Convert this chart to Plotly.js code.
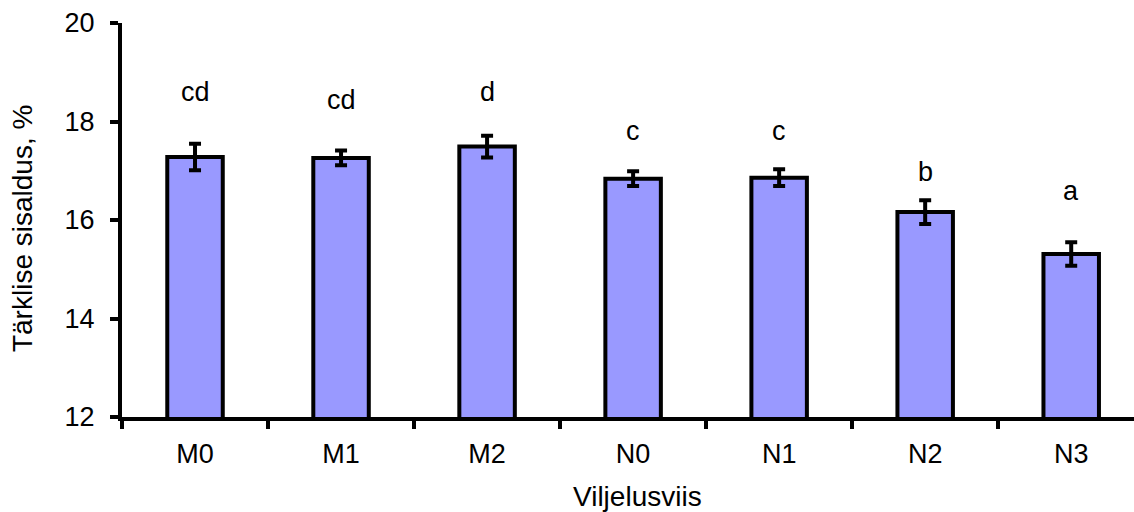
<!DOCTYPE html>
<html>
<head>
<meta charset="utf-8">
<script src="https://cdn.plot.ly/plotly-3.0.1.min.js"></script>
<style>html,body{margin:0;padding:0;background:#fff;}#chart{width:1134px;height:512px;}</style>
</head>
<body>
<div id="chart"></div>
<script>
const categories = ["M0", "M1", "M2", "N0", "N1", "N2", "N3"];
const values = [17.28, 17.26, 17.49, 16.84, 16.86, 16.16, 15.31];
const errors = [0.27, 0.15, 0.22, 0.15, 0.17, 0.24, 0.24];
const letters = ["cd", "cd", "d", "c", "c", "b", "a"];
const letterY = [18.6, 18.44, 18.6, 17.81, 17.81, 16.98, 16.58];
const xTitle = "Viljelusviis";
const yTitle = "Tärklise sisaldus, %";

const FONT = "Liberation Sans, Arial, sans-serif";

const trace = {
  type: "bar",
  x: categories,
  y: values,
  width: 0.38,
  marker: { color: "#9999FF", line: { color: "#000", width: 4 } },
  error_y: { type: "data", array: errors, visible: true, color: "#000", thickness: 4, width: 6 }
};

const annotations = categories.map((c, i) => ({
  x: c, y: letterY[i], xref: "x", yref: "y",
  text: letters[i], showarrow: false,
  font: { family: FONT, size: 27, color: "#000" }
}));
annotations.push({
  xref: "paper", yref: "paper", x: 0.5, xshift: 9, y: -0.203, xanchor: "center", yanchor: "middle",
  text: xTitle, showarrow: false, font: { family: FONT, size: 28, color: "#000" }
});
annotations.push({
  xref: "paper", yref: "paper", x: 0, xshift: -100, y: 0.477, xanchor: "center", yanchor: "middle",
  textangle: -90, text: yTitle, showarrow: false, font: { family: FONT, size: 28, color: "#000" }
});

const layout = {
  width: 1134, height: 512,
  margin: { l: 122, r: 0, t: 23, b: 95, pad: 0 },
  paper_bgcolor: "#fff", plot_bgcolor: "#fff",
  showlegend: false,
  font: { family: FONT, color: "#000" },
  xaxis: {
    type: "category",
    range: [-0.5, 6.43],
    showline: true, linecolor: "#000", linewidth: 4,
    ticks: "outside", tickson: "boundaries", ticklen: 8, tickwidth: 4, tickcolor: "#000",
    tickfont: { family: FONT, size: 27, color: "#000" },
    ticklabelstandoff: 10,
    showgrid: false, zeroline: false
  },
  yaxis: {
    range: [12, 20],
    dtick: 2, tick0: 12,
    showline: true, linecolor: "#000", linewidth: 4,
    ticks: "outside", ticklen: 8, tickwidth: 4, tickcolor: "#000",
    tickfont: { family: FONT, size: 27, color: "#000" },
    ticklabelstandoff: 10,
    showgrid: false, zeroline: false
  },
  annotations: annotations
};

Plotly.newPlot("chart", [trace], layout, { displayModeBar: false, staticPlot: true });
</script>
</body>
</html>
